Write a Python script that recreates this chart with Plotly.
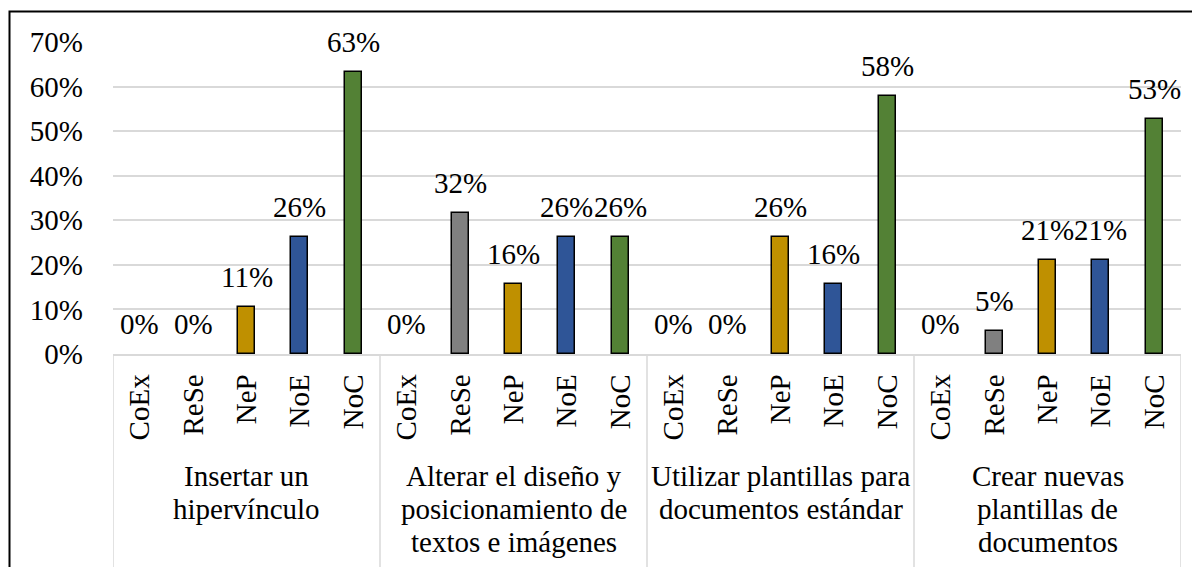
import plotly.graph_objects as go

groups = [
    "Insertar un\nhipervínculo",
    "Alterar el diseño y\nposicionamiento de\ntextos e imágenes",
    "Utilizar plantillas para\ndocumentos estándar",
    "Crear nuevas\nplantillas de\ndocumentos",
]
categories = ["CoEx", "ReSe", "NeP", "NoE", "NoC"]
values = [
    [0.0, 0.0, 0.1053, 0.2632, 0.6316],
    [0.0, 0.3158, 0.1579, 0.2632, 0.2632],
    [0.0, 0.0, 0.2632, 0.1579, 0.5789],
    [0.0, 0.0526, 0.2105, 0.2105, 0.5263],
]
colors = {"CoEx": "#4472C4", "ReSe": "#808080", "NeP": "#BF9000",
          "NoE": "#2F5597", "NoC": "#538135"}

FONT = "Liberation Serif"
FS = 29

# page offset (body margin) and plot-area geometry in reference pixels
OFF = 8
FW, FH = 1200 - OFF, 567 - OFF
L, T = 113 - OFF, 42 - OFF
W, H = 1068, 312
R = FW - L - W
B = FH - T - H

def py(p):
    return (T + H - (p - OFF)) / H

def px(p):
    return ((p - OFF) - L) / W

xs, ys, ticktext, bar_colors, line_w = [], [], [], [], []
i = 0
for g, vals in enumerate(values):
    for c, v in zip(categories, vals):
        xs.append(i)
        ys.append(v)
        ticktext.append(c)
        bar_colors.append(colors[c])
        line_w.append(1.5 if v > 0 else 0)
        i += 1

fig = go.Figure()
fig.add_trace(go.Bar(
    x=xs, y=ys, width=0.32,
    marker=dict(color=bar_colors, line=dict(color="black", width=line_w)),
    hoverinfo="skip",
))

# data labels
for x, v in zip(xs, ys):
    fig.add_annotation(x=x, y=v, xref="x", yref="y", text=f"{v*100:.0f}%",
                       showarrow=False, xanchor="center", yanchor="bottom",
                       yshift=12,
                       font=dict(family=FONT, size=FS, color="black"))

ncat = len(categories)
# dividers
for k in range(len(groups) + 1):
    xb = k * ncat - 0.5
    fig.add_shape(type="line", xref="x", yref="paper", x0=xb, x1=xb,
                  y0=0, y1=py(580), line=dict(color="#D9D9D9", width=1.5),
                  layer="below")

# group labels
baselines = [485, 518, 551]
for g, name in enumerate(groups):
    cx = g * ncat + (ncat - 1) / 2
    for j, line in enumerate(name.split("\n")):
        fig.add_annotation(x=cx, xref="x", y=py(baselines[j] - 9), yref="paper",
                           text=line, showarrow=False, xanchor="center",
                           yanchor="middle",
                           font=dict(family=FONT, size=FS, color="black"))

# outer border
fig.add_shape(type="rect", xref="paper", yref="paper",
              x0=px(9.5), x1=px(1260), y0=py(620), y1=py(11.5),
              line=dict(color="black", width=2), layer="above")

fig.update_layout(
    width=FW, height=FH,
    margin=dict(l=L, r=R, t=T, b=B),
    paper_bgcolor="white", plot_bgcolor="white",
    showlegend=False,
    font=dict(family=FONT, size=FS, color="black"),
    bargap=0,
)
fig.update_xaxes(
    range=[-0.5, len(xs) - 0.5], tickmode="array", tickvals=xs,
    ticktext=ticktext, tickangle=-90, showgrid=False, zeroline=False,
    showline=True, linecolor="#D9D9D9", linewidth=1.5, ticks="",
    ticklabelstandoff=7,
    tickfont=dict(family=FONT, size=FS, color="black"),
)
fig.update_yaxes(
    range=[0, 0.7], dtick=0.1, tickformat=".0%", showgrid=True,
    gridcolor="#D9D9D9", gridwidth=1.5, zeroline=False, showline=False,
    ticks="", ticklabelstandoff=29,
    tickfont=dict(family=FONT, size=FS, color="black"),
)

fig.write_html("out.html")
